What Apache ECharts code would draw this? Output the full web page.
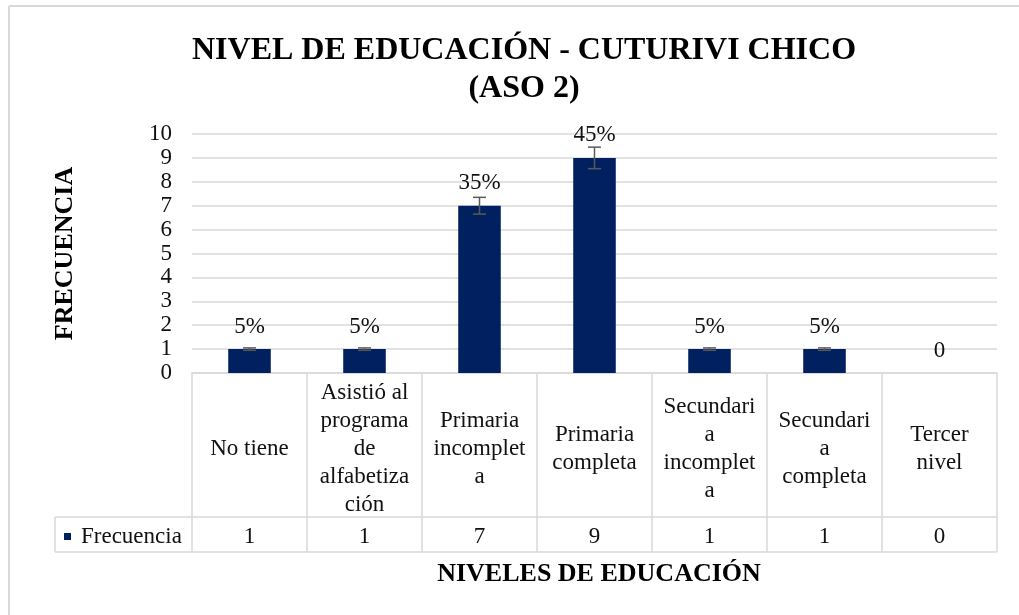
<!DOCTYPE html>
<html lang="es">
<head>
    <meta charset="UTF-8">
    <title>Nivel de educación - Cuturivi Chico</title>
    <script type="text/javascript" src="https://cdn.jsdelivr.net/npm/echarts@6/dist/echarts.min.js"></script>
    <style>
        html, body { margin: 0; padding: 0; background: #fff; }
        #chart { width: 1019px; height: 615px; }
    </style>
</head>
<body>
<div id="chart"></div>
<script type="text/javascript">
    // datos
    var etiquetas = ['No tiene', 'Asistió al\nprograma\nde\nalfabetiza\nción', 'Primaria\nincomplet\na',
        'Primaria\ncompleta', 'Secundari\na\nincomplet\na', 'Secundari\na\ncompleta', 'Tercer\nnivel'];
    var frecuencia = [1, 1, 7, 9, 1, 1, 0];
    var porcentajes = ['5%', '5%', '35%', '45%', '5%', '5%', '0'];
    var errores = [0.05, 0.05, 0.35, 0.45, 0.05, 0.05, 0];
    var yMin = 0, yMax = 10, yPaso = 1;

    var fuente = "'Liberation Serif', 'Times New Roman', serif";
    var gris = '#d9d9d9';

    var chart = echarts.init(document.getElementById('chart'));

    var errData = frecuencia.map(function (v, i) { return [i, v, errores[i]]; });

    var option = {
        animation: false,
        textStyle: { fontFamily: fuente, color: '#000' },
        title: [{
            text: 'NIVEL DE EDUCACIÓN - CUTURIVI CHICO\n(ASO 2)',
            left: 519, top: 27, textAlign: 'center',
            textStyle: { fontFamily: fuente, fontSize: 32, fontWeight: 'bold', lineHeight: 38, color: '#000' }
        }, {
            text: 'NIVELES DE EDUCACIÓN',
            left: 594, top: 556, textAlign: 'center',
            textStyle: { fontFamily: fuente, fontSize: 26, fontWeight: 'bold', color: '#000' }
        }],
        legend: {
            data: ['Frecuencia'],
            left: 59, top: 520,
            icon: 'rect', itemWidth: 7, itemHeight: 7,
            textStyle: { fontFamily: fuente, fontSize: 23, color: '#111', padding: [0, 0, 0, 5] }
        },
        grid: { left: 192, right: 22, top: 134, bottom: 242 },
        xAxis: [{
            type: 'category',
            data: etiquetas,
            axisLine: { lineStyle: { color: gris, width: 1.5 } },
            axisTick: { show: true, interval: 0, length: 179, lineStyle: { color: gris, width: 1.5 } },
            axisLabel: {
                interval: 0, margin: 76, verticalAlign: 'middle',
                fontFamily: fuente, fontSize: 23, lineHeight: 28, color: '#111'
            }
        }, {
            type: 'category',
            position: 'bottom',
            offset: 144,
            data: frecuencia.map(String),
            axisLine: { lineStyle: { color: gris, width: 1.5 } },
            axisTick: { show: false },
            axisLabel: { interval: 0, margin: 20, verticalAlign: 'middle', fontFamily: fuente, fontSize: 23, color: '#111' }
        }],
        yAxis: {
            type: 'value',
            min: yMin, max: yMax, interval: yPaso,
            name: 'FRECUENCIA',
            nameLocation: 'middle',
            nameGap: 114,
            nameTextStyle: { fontFamily: fuente, fontSize: 26, fontWeight: 'bold', color: '#000' },
            axisLine: { show: false },
            axisTick: { show: false },
            axisLabel: { margin: 20, fontFamily: fuente, fontSize: 23, color: '#111' },
            splitLine: { lineStyle: { color: gris, width: 1.5 } }
        },
        series: [{
            name: 'Frecuencia',
            type: 'bar',
            data: frecuencia,
            barWidth: '37%',
            itemStyle: { color: '#002060' },
            label: {
                show: true, position: 'top', distance: 11,
                fontFamily: fuente, fontSize: 23, color: '#111',
                formatter: function (p) { return porcentajes[p.dataIndex]; }
            }
        }, {
            name: 'error',
            type: 'custom',
            z: 5,
            data: errData,
            renderItem: function (params, api) {
                var e = api.value(2);
                if (!e) return;
                var i = api.value(0), v = api.value(1);
                var a = api.coord([i, v + e]);
                var b = api.coord([i, v - e]);
                var hw = 6.5;
                var st = { stroke: '#595959', lineWidth: 1.5 };
                return {
                    type: 'group',
                    children: [
                        { type: 'line', shape: { x1: a[0], y1: a[1], x2: b[0], y2: b[1] }, style: st },
                        { type: 'line', shape: { x1: a[0] - hw, y1: a[1], x2: a[0] + hw, y2: a[1] }, style: st },
                        { type: 'line', shape: { x1: b[0] - hw, y1: b[1], x2: b[0] + hw, y2: b[1] }, style: st }
                    ]
                };
            }
        }],
        graphic: [
            // marco exterior
            { type: 'line', shape: { x1: 9, y1: 6, x2: 1019, y2: 6 }, style: { stroke: gris, lineWidth: 2 } },
            { type: 'line', shape: { x1: 9, y1: 6, x2: 9, y2: 615 }, style: { stroke: gris, lineWidth: 2 } },
            // celda de la leyenda en la tabla
            { type: 'line', shape: { x1: 55, y1: 517, x2: 192, y2: 517 }, style: { stroke: gris, lineWidth: 1.5 } },
            { type: 'line', shape: { x1: 55, y1: 552, x2: 997, y2: 552 }, style: { stroke: gris, lineWidth: 1.5 } },
            { type: 'line', shape: { x1: 55, y1: 517, x2: 55, y2: 552 }, style: { stroke: gris, lineWidth: 1.5 } }
        ]
    };

    chart.setOption(option);
</script>
</body>
</html>
